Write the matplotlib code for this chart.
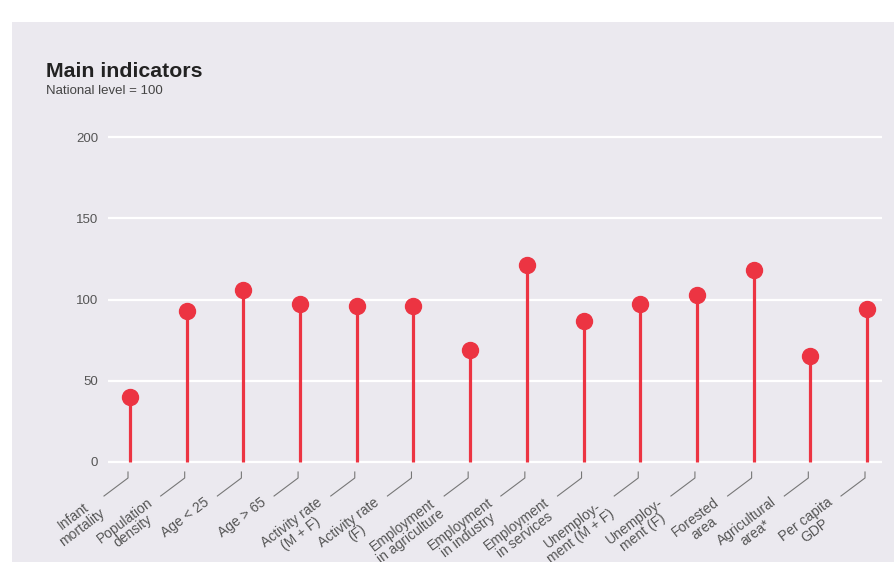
import numpy as np
import matplotlib
matplotlib.use("Agg")
import matplotlib.pyplot as plt
from matplotlib.patches import Rectangle
from matplotlib.transforms import ScaledTranslation

# ==================================================
# データ
# ==================================================
labels = ["Infant\nmortality", "Population\ndensity", "Age < 25", "Age > 65",
          "Activity rate\n(M + F)", "Activity rate\n(F)", "Employment\nin agriculture",
          "Employment\nin industry", "Employment\nin services", "Unemploy-\nment (M + F)",
          "Unemploy-\nment (F)", "Forested\narea", "Agricultural\narea*", "Per capita\nGDP"]
values = [40, 93, 106, 97, 96, 96, 69, 121, 87, 97, 103, 118, 65, 94]
yticks = [0, 50, 100, 150, 200]

title = "Main indicators"
subtitle = "National level = 100"

# ==================================================
# スタイル
# ==================================================
plt.rcParams['font.family'] = ['Liberation Sans', 'DejaVu Sans']
red = '#ec3442'
panel = '#ebe9ef'
W, H = 894, 562

fig = plt.figure(figsize=(W / 100, H / 100), dpi=100)
fig.patch.set_facecolor('white')
# 背景パネル
fig.patches.append(Rectangle((12 / W, 0), 1, 1 - 22 / H, transform=fig.transFigure,
                             facecolor=panel, edgecolor='none', zorder=-10))

# 軸の位置（ピクセル基準）
ax_left, ax_right, ax_top, ax_bottom = 108, 882, 130, 470
ax = fig.add_axes([ax_left / W, 1 - ax_bottom / H, (ax_right - ax_left) / W, (ax_bottom - ax_top) / H])
ax.set_facecolor('none')

x = np.arange(len(values))
px_x = 56.7
px_y = 1.625
ax.set_xlim(-(130 - ax_left) / px_x, len(values) - 1 + (ax_right - 867) / px_x)
ax.set_ylim(-(ax_bottom - 462) / px_y, 200 + (137 - ax_top) / px_y)

# グリッド
for t in yticks:
    ax.axhline(t, color='white', lw=1.6, zorder=1)

# ロリポップ
ax.vlines(x, 0, values, color=red, lw=2.3, zorder=2)
ax.plot(x, values, 'o', color=red, ms=11.5, zorder=3)

# y軸
ax.set_yticks(yticks)
ax.set_yticklabels([str(t) for t in yticks], fontsize=9.5, color='#555555')
ax.tick_params(axis='y', length=0, pad=7)
ax.set_xticks([])
for s in ax.spines.values():
    s.set_visible(False)

# ラベルと引き出し線
for i, lab in enumerate(labels):
    tr = fig.dpi_scale_trans + ScaledTranslation(i, 0, ax.transData)
    ax.plot([-0.02, -0.02, -0.26], [-0.10, -0.16, -0.34], color='#777777', lw=0.8,
            transform=tr, clip_on=False)
    ax.annotate(lab, xy=(i, 0), xytext=(-40, -33), textcoords='offset pixels',
                rotation=37, rotation_mode='anchor', ha='right', va='top',
                multialignment='center', linespacing=1.0, fontsize=10,
                color='#555555', annotation_clip=False)

# タイトル
fig.text(46 / W, 1 - 77 / H, title, fontsize=15.3, fontweight='bold', color='#222222',
         ha='left', va='baseline')
fig.text(46 / W, 1 - 94 / H, subtitle, fontsize=9.5, color='#444444',
         ha='left', va='baseline')

fig.savefig('out.png', dpi=100)
